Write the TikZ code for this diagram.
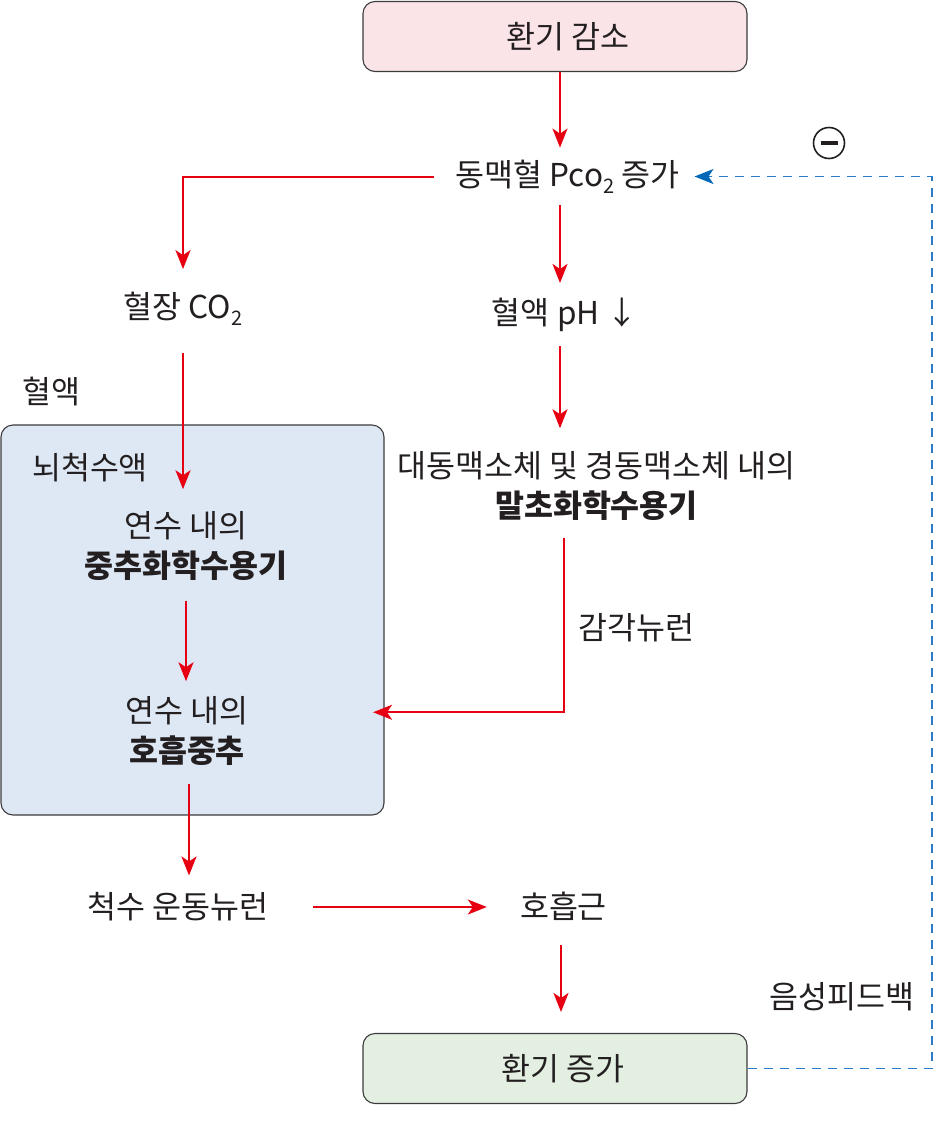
\documentclass[tikz,border=0pt]{standalone}
\usepackage{fontspec}
\setmainfont{Noto Sans CJK KR}
\usepackage{xcolor}
\usepackage{tikz}
\usetikzlibrary{calc,arrows.meta}

\definecolor{flowred}{HTML}{E60012}
\definecolor{fbblue}{HTML}{2B7BC4}
\definecolor{fbtip}{HTML}{0068B7}
\definecolor{inkgray}{HTML}{231F20}
\definecolor{edgegray}{HTML}{3C3C3C}
\definecolor{pinkfill}{HTML}{FBE4E8}
\definecolor{greenfill}{HTML}{E2EFE1}
\definecolor{csffill}{HTML}{DEE8F5}

\newcommand{\lowtwo}{\raisebox{-0.22em}{\fontsize{20}{20}\selectfont 2}}

\tikzset{
  txt/.style={inner sep=0pt, text=inkgray, font=\fontsize{31.5}{40}\selectfont, align=center},
  ventbox/.style={txt, draw=edgegray, line width=1.1pt, rounded corners=12pt,
    minimum width=384pt, minimum height=70pt},
  csfbox/.style={draw=edgegray, line width=1.1pt, rounded corners=12pt, fill=csffill,
    minimum width=383pt, minimum height=390pt, inner sep=0pt},
  flow/.style={draw=flowred, line width=2pt, -{Stealth[length=19pt,width=15pt,inset=5pt]}},
  feedback/.style={draw=fbblue, line width=1.8pt, dash pattern=on 9pt off 7pt,
    -{Stealth[length=19pt,width=15pt,inset=5pt,color=fbtip]}},
  minussign/.style={circle, draw=inkgray, line width=1.6pt, minimum size=31pt, inner sep=0pt,
    path picture={\draw[inkgray, line width=3.2pt]
      ([xshift=-8.5pt]path picture bounding box.center) -- ([xshift=8.5pt]path picture bounding box.center);}},
}

\begin{document}
\begin{tikzpicture}[x=1pt,y=-1pt]
\useasboundingbox (0,0) rectangle (934,1130);
% cerebrospinal fluid region
\node[csfbox] (csf) at (192.5,620) {};
% start and end boxes
\node[ventbox, fill=pinkfill] (vdec) at (555,36.5) {\hspace*{26pt}환기 감소};
\node[ventbox, fill=greenfill] (vinc) at (555,1068.5) {\hspace*{16pt}환기 증가};
% labels
\node[txt] (pco2) at (567.5,176.5) {동맥혈 Pco\lowtwo{} 증가};
\node[txt] (plasma) at (183,309) {혈장 CO\lowtwo};
\node[txt] (ph) at (565,315) {혈액 pH ↓};
\node[txt] (blood) at (51.5,392) {혈액};
\node[txt] (csflabel) at (90,467.5) {뇌척수액};
\node[txt] (central) at (186,546) {연수 내의\\\textbf{중추화학수용기}};
\node[txt] (rcenter) at (187,731) {연수 내의\\\textbf{호흡중추}};
\node[txt] (periph) at (596.5,486) {대동맥소체 및 경동맥소체 내의\\\textbf{말초화학수용기}};
\node[txt] (sensory) at (636.5,627.5) {감각뉴런};
\node[txt] (motor) at (178,907) {척수 운동뉴런};
\node[txt] (muscle) at (563.5,906.5) {호흡근};
\node[txt] (negfb) at (842,997) {음성피드백};
\node[minussign] (minus) at (829,143) {};
% red arrows
\draw[flow, shorten >=12pt] ([xshift=5pt]vdec.south) -- ([xshift=5pt]vdec.south |- pco2.north);
\draw[flow, shorten <=22pt, shorten >=23pt] (pco2.west) -| (plasma.north);
\draw[flow, shorten <=12pt, shorten >=15pt] ([xshift=-5pt]ph.north |- pco2.south) -- ([xshift=-5pt]ph.north);
\draw[flow, shorten <=27pt, shorten >=22pt] (plasma.south) -- (plasma.south |- central.north);
\draw[flow, shorten <=14pt, shorten >=23pt] ([xshift=-5pt]ph.south) -- ([xshift=-5pt]ph.south |- periph.north);
\draw[flow, shorten <=20pt, shorten >=15pt] (central.south) -- (central.south |- rcenter.north);
\draw[flow, shorten <=17pt] ([xshift=-32.5pt]periph.south) |- ($(csf.east |- rcenter.north)+(-11.5,16)$);
\draw[flow, shorten <=18pt, shorten >=17pt] ([xshift=2pt]rcenter.south) -- ([xshift=2pt]rcenter.south |- motor.north);
\draw[flow, shorten <=44pt, shorten >=33pt] (motor.east) -- (motor.east -| muscle.west);
\draw[flow, shorten <=24pt, shorten >=21pt] ([xshift=-2.5pt]muscle.south) -- ([xshift=-2.5pt]muscle.south |- vinc.north);
% negative feedback
\coordinate (fbedge) at (932,600);
\draw[feedback, shorten >=15pt] (vinc.east) -| (fbedge |- pco2.east) -- (pco2.east);
\end{tikzpicture}
\end{document}
